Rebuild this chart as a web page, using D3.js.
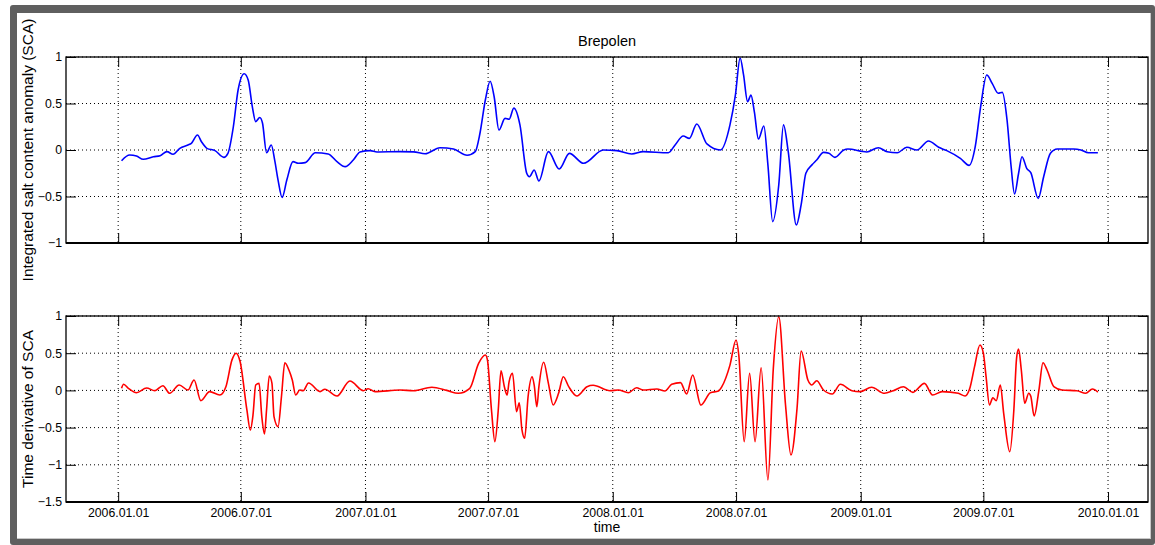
<!DOCTYPE html>
<html>
<head>
<meta charset="utf-8">
<script src="https://cdn.jsdelivr.net/npm/d3@7"></script>
<style>
body { margin: 0; background: #fff; }
text { font-family: 'Liberation Sans', Arial, sans-serif; fill: #000; }
</style>
</head>
<body>
<svg id="chart" width="1155" height="545"></svg>
<script>
// days since 2006.01.01 and values
const topDays = [5,17,27,37,52,62,72,81,91,103,108,117,123,131,143,156,162,170,177,186,192,198,203,209,213,219,226,231,236,242,249,258,266,276,291,310,323,335,347,357,372,382,416,436,453,475,495,515,527,534,542,549,555,562,571,577,584,593,603,607,614,621,635,651,666,687,716,736,758,775,812,822,834,843,854,869,889,903,911,918,923,929,934,939,945,953,959,966,975,982,989,1001,1008,1015,1024,1031,1041,1049,1058,1071,1077,1105,1122,1135,1150,1164,1179,1196,1211,1223,1243,1256,1265,1273,1282,1290,1299,1305,1312,1318,1323,1329,1334,1341,1347,1358,1366,1376,1386,1410,1421,1432,1446]
const topSca = [-0.115,-0.054,-0.065,-0.10,-0.072,-0.061,-0.018,-0.046,0.018,0.054,0.072,0.161,0.089,0.018,-0.007,-0.079,-0.036,0.25,0.645,0.82,0.75,0.466,0.305,0.35,0.29,-0.029,0.054,-0.108,-0.323,-0.51,-0.32,-0.125,-0.143,-0.136,-0.029,-0.043,-0.125,-0.179,-0.108,-0.021,-0.007,-0.021,-0.018,-0.02,-0.04,0.025,0.01,-0.057,-0.018,0.18,0.54,0.74,0.57,0.215,0.34,0.33,0.45,0.27,-0.25,-0.287,-0.215,-0.333,-0.018,-0.204,-0.036,-0.143,0,-0.007,-0.043,-0.018,-0.029,0.054,0.15,0.125,0.28,0.065,0,0.27,0.59,0.99,0.81,0.52,0.59,0.41,0.118,0.258,-0.16,-0.77,-0.376,0.27,-0.018,-0.806,-0.59,-0.25,-0.16,-0.108,-0.025,-0.036,-0.079,0,0.01,-0.021,0.025,-0.018,-0.029,0.029,0,0.097,0.029,-0.007,-0.09,-0.165,0.036,0.466,0.806,0.717,0.61,0.62,0.32,-0.18,-0.473,-0.25,-0.072,-0.197,-0.244,-0.52,-0.287,-0.036,0.01,0.01,0,-0.029,-0.029]

const botDays = [5,8,15,27,42,54,66,76,90,103,112,122,135,150,159,168,174,180,190,195,199,203,208,212,216,219,223,227,230,236,241,246,252,257,262,268,273,281,298,305,323,342,362,369,379,416,436,463,485,502,519,532,542,545,551,556,561,565,570,574,577,582,588,592,596,600,605,611,614,618,621,628,635,642,650,657,665,677,692,701,726,738,753,765,775,795,807,817,830,839,848,860,874,886,891,903,912,916,924,932,940,949,959,967,975,985,993,1002,1008,1018,1024,1031,1041,1054,1066,1083,1095,1112,1131,1144,1159,1173,1190,1202,1216,1240,1250,1257,1264,1272,1277,1281,1286,1291,1296,1302,1307,1316,1322,1326,1329,1333,1338,1344,1347,1352,1359,1365,1371,1381,1393,1415,1428,1438,1446]
const botDsca = [0.028,0.082,0.028,-0.031,0.032,-0.004,0.063,-0.039,0.073,0.005,0.14,-0.138,-0.017,-0.062,0.05,0.41,0.5,0.386,-0.263,-0.532,-0.33,0.073,0.095,-0.353,-0.586,-0.263,0.194,0.095,-0.353,-0.487,-0.085,0.372,0.274,0.14,-0.062,0.005,-0.004,0.1,-0.017,0.015,-0.075,0.126,-0.004,0.023,-0.017,0.005,-0.004,0.042,0,-0.039,0.028,0.364,0.476,0.41,-0.263,-0.689,-0.263,0.265,0.05,-0.062,0.117,0.23,-0.286,-0.165,-0.532,-0.644,-0.085,0.184,0.073,-0.219,0.05,0.378,0.095,-0.196,-0.039,0.184,0.05,-0.075,0.05,0.069,-0.004,0.005,-0.031,0.036,0.005,0.019,-0.008,0.082,0.104,-0.048,0.207,-0.196,-0.031,-0.008,0.05,0.34,0.677,0.476,-0.689,0.23,-0.689,0.305,-1.204,0.297,0.99,-0.196,-0.868,-0.24,0.53,0.14,0.073,0.13,0.005,-0.048,0.082,-0.004,-0.017,0.042,-0.039,-0.004,0.05,-0.026,0.095,-0.062,-0.017,-0.039,-0.075,0.028,0.319,0.61,0.5,0.184,-0.196,-0.098,-0.138,0.073,-0.308,-0.824,-0.263,0.431,0.556,0.274,-0.173,-0.039,-0.08,-0.344,0.005,0.372,0.274,0.05,0.005,-0.004,-0.039,0.019,-0.022]

const xTickLabels = ['2006.01.01','2006.07.01','2007.01.01','2007.07.01','2008.01.01','2008.07.01','2009.01.01','2009.07.01','2010.01.01']
const topYTicks = [-1,-0.5,0,0.5,1]
const botYTicks = [-1.5,-1,-0.5,0,0.5,1]

const svg = d3.select('#chart')
const left = 66
const right = 1148
const tickLen = 10

const parseTick = d3.utcParse('%Y.%m.%d')
const fmtTick = d3.utcFormat('%Y.%m.%d')
const day0 = Date.UTC(2006, 0, 1)
const toDate = d => new Date(day0 + d * 864e5)
const tickDates = xTickLabels.map(parseTick)
const fmtY = d => (d < 0 ? '\u2212' : '') + Math.abs(d)

// frame
svg.append('rect')
	.attr('x', 10).attr('y', 5)
	.attr('width', 1145).attr('height', 540)
	.attr('rx', 3)
	.attr('fill', '#5f5f5f')
svg.append('rect')
	.attr('x', 17).attr('y', 13)
	.attr('width', 1133).attr('height', 525)
	.attr('fill', '#fff')
svg.append('line')
	.attr('x1', 1150.5).attr('y1', 13).attr('x2', 1150.5).attr('y2', 539)
	.style('stroke', '#c8c8c8')
svg.append('line')
	.attr('x1', 17).attr('y1', 538.5).attr('x2', 1151).attr('y2', 538.5)
	.style('stroke', '#c8c8c8')

const xScale = d3.scaleUtc()
	.domain([new Date(Date.UTC(2005, 9, 16)), new Date(Date.UTC(2010, 2, 1))])
	.range([left, right])

const drawPanel = (top, bottom, yDomain, yTicks, days, values, color, showX) => {
	const yScale = d3.scaleLinear()
		.domain(yDomain)
		.range([bottom, top])

	const g = svg.append('g')

	// dotted grid
	g.selectAll('line.vgrid')
		.data(tickDates)
		.enter()
		.append('line')
			.attr('class', 'vgrid')
			.attr('x1', d => xScale(d)).attr('x2', d => xScale(d))
			.attr('y1', top).attr('y2', bottom)
	g.selectAll('line.hgrid')
		.data(yTicks)
		.enter()
		.append('line')
			.attr('class', 'hgrid')
			.attr('x1', left).attr('x2', right)
			.attr('y1', d => yScale(d)).attr('y2', d => yScale(d))
	g.selectAll('line.vgrid, line.hgrid')
		.style('stroke', '#000')
		.style('stroke-width', 1)
		.style('stroke-dasharray', '1,3')

	const line = d3.line()
		.x((d, i) => xScale(toDate(days[i])))
		.y(d => yScale(d))
		.curve(d3.curveMonotoneX)

	g.append('path')
		.datum(values)
		.attr('d', line)
		.attr('fill', 'none')
		.style('stroke', color)
		.style('stroke-width', 1.6)
		.style('stroke-linejoin', 'round')

	const xBottom = g.append('g')
		.attr('transform', `translate(0, ${bottom})`)
		.call(d3.axisBottom(xScale).tickValues(tickDates).tickSize(-tickLen).tickPadding(6)
			.tickFormat(showX ? fmtTick : ''))
	const xTop = g.append('g')
		.attr('transform', `translate(0, ${top})`)
		.call(d3.axisTop(xScale).tickValues(tickDates).tickSize(-tickLen).tickFormat(''))
	const yLeft = g.append('g')
		.attr('transform', `translate(${left}, 0)`)
		.call(d3.axisLeft(yScale).tickValues(yTicks).tickSize(-tickLen).tickPadding(4).tickFormat(fmtY))
	const yRight = g.append('g')
		.attr('transform', `translate(${right}, 0)`)
		.call(d3.axisRight(yScale).tickValues(yTicks).tickSize(-tickLen).tickFormat(''))

	g.selectAll('path.domain').remove()
	g.selectAll('.tick line')
		.style('stroke', '#000')
		.style('stroke-width', 1)
	g.selectAll('.tick text')
		.style('font-family', "'Liberation Sans', Arial, sans-serif")
		.style('font-size', '12.3px')
		.style('fill', '#000')

	g.append('rect')
		.attr('x', left).attr('y', top)
		.attr('width', right - left).attr('height', bottom - top)
		.attr('fill', 'none')
		.style('stroke', '#000')
		.style('stroke-width', 1.3)
	g.append('line')
		.attr('x1', left).attr('x2', right)
		.attr('y1', bottom).attr('y2', bottom)
		.style('stroke', '#000')
		.style('stroke-width', 2)

	return yScale
}

drawPanel(57, 243, [-1, 1], topYTicks, topDays, topSca, '#0000ff', false)
drawPanel(316, 502, [-1.5, 1], botYTicks, botDays, botDsca, '#ff0000', true)

svg.append('text')
	.attr('x', (left + right) / 2)
	.attr('y', 46)
	.attr('text-anchor', 'middle')
	.style('font-size', '14.5px')
	.text('Brepolen')

svg.append('text')
	.attr('x', (left + right) / 2)
	.attr('y', 532)
	.attr('text-anchor', 'middle')
	.style('font-size', '14px')
	.text('time')

svg.append('text')
	.attr('transform', `translate(33, 150) rotate(-90)`)
	.attr('text-anchor', 'middle')
	.style('font-size', '15.5px')
	.text('Integrated salt content anomaly (SCA)')

svg.append('text')
	.attr('transform', `translate(33, 409) rotate(-90)`)
	.attr('text-anchor', 'middle')
	.style('font-size', '15.5px')
	.text('Time derivative of SCA')
</script>
</body>
</html>
